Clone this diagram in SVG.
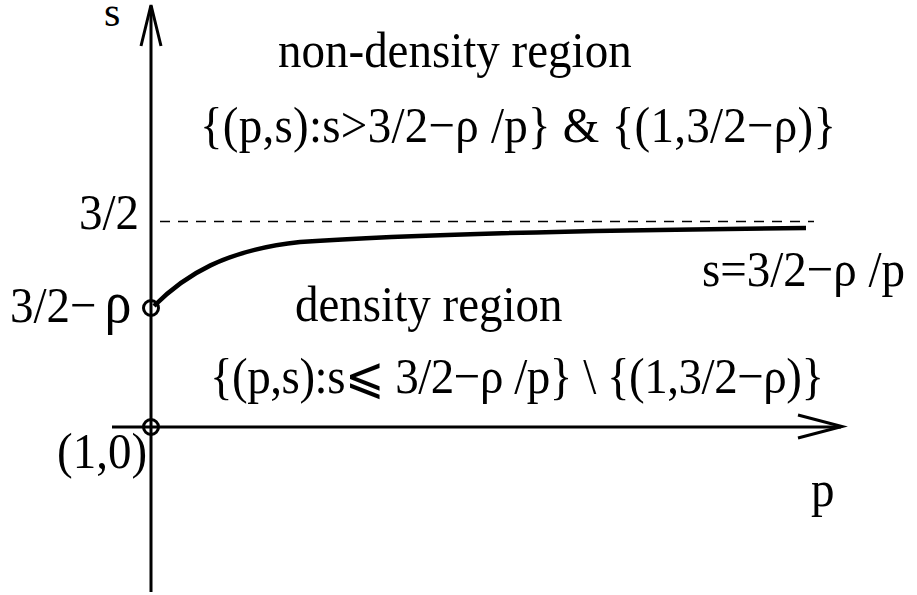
<svg xmlns="http://www.w3.org/2000/svg" width="917" height="595" viewBox="0 0 917 595">
<style>
text{font-family:"Liberation Serif","DejaVu Serif",serif;font-size:47px;fill:#000}
.ax{stroke:#000;stroke-width:3;fill:none}
.rho{font-size:54px}
</style>
<rect width="917" height="595" fill="#fff"/>
<g id="connectors">
<line class="ax" x1="151" y1="592" x2="151" y2="6"/>
<polyline class="ax" points="141,46 151,5 161,46"/>
<line class="ax" x1="112" y1="427" x2="841" y2="427"/>
<polyline class="ax" points="798,415 842,426.5 798,438"/>
<line x1="160" y1="221.5" x2="814" y2="221.5" stroke="#000" stroke-width="1.3" stroke-dasharray="10,8"/>
<path d="M154,306 C185,275 225,250 300,242 C400,235 600,230 806,228" fill="none" stroke="#000" stroke-width="4.5"/>
<circle class="ax" cx="151" cy="308" r="7.5"/>
<circle class="ax" cx="151" cy="427" r="7.5"/>
</g>
<text x="104" y="26" style="font-size:42px">s</text>
<g id="labels" transform="scale(1,1.08)">
<text x="278" y="62">non-density region</text>
<text x="200" y="131.5" textLength="636" lengthAdjust="spacing">{(p,s):s&gt;3/2−ρ /p} &amp; {(1,3/2−ρ)}</text>
<text x="139" y="212" text-anchor="end">3/2</text>
<text x="905" y="264.8" text-anchor="end">s=3/2−ρ /p</text>
<text x="10" y="298">3/2−<tspan dx="8" class="rho">ρ</tspan></text>
<text x="295" y="297">density region</text>
<text x="210" y="364" textLength="614" lengthAdjust="spacing">{(p,s):s⩽ 3/2−ρ /p} \ {(1,3/2−ρ)}</text>
<text x="57" y="433">(1,0)</text>
<text x="811" y="468.5">p</text>
</g>
</svg>
